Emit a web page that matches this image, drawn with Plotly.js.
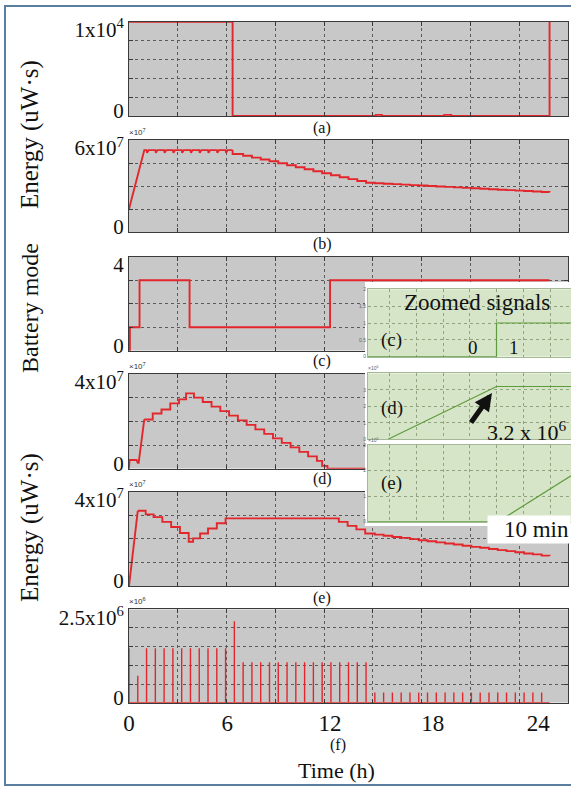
<!DOCTYPE html>
<html><head><meta charset="utf-8">
<script src="https://cdn.plot.ly/plotly-3.0.1.min.js"></script>
<style>html,body{margin:0;padding:0;background:#fff}#chart{width:571px;height:787px}</style>
</head><body><div id="chart"></div>
<script>
// ---------------- DATA (time in hours) ----------------
const timeEnd = 23.95;
// (a) harvested energy (uW·s)
const aTime = [0, 5.9, 14.05, 14.4, 17.95, 18.35, 23.95];
const aVal  = [10000, 0, 120, 0, 120, 0, 10000];
// (b) energy, x10^7
const bRampTime = [0, 0.87, 1.0, 1.03, 1.12, 1.5, 1.53, 1.62, 2.0, 2.03, 2.12, 2.5, 2.53, 2.62, 3.0, 3.03, 3.12, 3.5, 3.53, 3.62, 4.0, 4.03, 4.12, 4.5, 4.53, 4.62, 5.0, 5.03, 5.12, 5.5, 5.53, 5.62, 5.9];
const bRampVal  = [1.5, 5.34, 5.34, 5.16, 5.34, 5.34, 5.16, 5.34, 5.34, 5.16, 5.34, 5.34, 5.16, 5.34, 5.34, 5.16, 5.34, 5.34, 5.16, 5.34, 5.34, 5.16, 5.34, 5.34, 5.16, 5.34, 5.34, 5.16, 5.34, 5.34, 5.16, 5.34, 5.34];
const bStepTime = [5.9, 5.9, 6.5, 7.0, 7.5, 8.0, 8.5, 9.0, 9.5, 10.0, 10.5, 11.0, 11.5, 12.0, 12.5, 13.0, 13.5, 14.0, 14.5, 15.0, 15.5, 16.0, 16.5, 17.0, 17.5, 18.0, 18.5, 19.0, 19.5, 20.0, 20.5, 21.0, 21.5, 22.0, 22.5, 23.0, 23.5, 23.95];
const bStepVal  = [5.34, 5.09, 4.97, 4.85, 4.73, 4.61, 4.48, 4.35, 4.22, 4.09, 3.96, 3.83, 3.70, 3.57, 3.45, 3.33, 3.21, 3.18, 3.15, 3.12, 3.09, 3.06, 3.03, 3.00, 2.97, 2.94, 2.91, 2.88, 2.85, 2.82, 2.79, 2.76, 2.73, 2.70, 2.67, 2.64, 2.61, 2.59];
// (c) battery mode
const cTime = [0, 0.05, 0.6, 3.45, 11.45, 23.95];
const cVal  = [0, 1, 3, 1, 3, 3];
// (d) energy, x10^7
const dRampTime = [0, 0.03, 0.43, 0.5, 0.55, 0.87];
const dRampVal  = [0, 0.37, 0.37, 0.25, 0.25, 2.08];
const dStepTime = [0.87, 1.35, 1.85, 2.35, 2.85, 3.25, 3.7, 4.2, 4.7, 5.2, 5.7, 6.2, 6.7, 7.2, 7.7, 8.2, 8.7, 9.2, 9.7, 10.2, 10.7, 11.0, 11.3, 23.95];
const dStepVal  = [2.08, 2.33, 2.50, 2.76, 2.93, 3.18, 3.0, 2.82, 2.62, 2.43, 2.24, 2.04, 1.85, 1.66, 1.47, 1.28, 1.09, 0.90, 0.71, 0.52, 0.33, 0.12, 0, 0];
// (e) energy, x10^7
const eRampTime = [0, 0.5];
const eRampVal  = [0, 3.19];
const eStepTime = [0.5, 0.95, 1.4, 1.9, 2.4, 2.9, 3.4, 3.65, 4.05, 4.5, 5.0, 5.5, 11.95, 12.45, 12.95, 13.45, 14.0, 14.5, 15.0, 15.5, 16.0, 16.5, 17.0, 17.5, 18.0, 18.5, 19.0, 19.5, 20.0, 20.5, 21.0, 21.5, 22.0, 22.5, 23.0, 23.5, 23.95];
const eStepVal  = [3.19, 3.04, 2.92, 2.72, 2.50, 2.25, 1.88, 2.02, 2.23, 2.44, 2.66, 2.87, 2.72, 2.55, 2.40, 2.23, 2.18, 2.13, 2.08, 2.04, 1.99, 1.94, 1.90, 1.85, 1.80, 1.76, 1.71, 1.66, 1.62, 1.57, 1.52, 1.48, 1.43, 1.38, 1.34, 1.29, 1.27];
// (f) consumed energy pulses, x10^6
const fTime = [0, 0.5, 1.0, 1.5, 2.0, 2.5, 3.0, 3.5, 4.0, 4.5, 5.0, 5.5, 6.0, 6.5, 7.0, 7.5, 8.0, 8.5, 9.0, 9.5, 10.0, 10.5, 11.0, 11.5, 12.0, 12.5, 13.0, 13.5, 14.0, 14.5, 15.0, 15.5, 16.0, 16.5, 17.0, 17.5, 18.0, 18.5, 19.0, 19.5, 20.0, 20.5, 21.0, 21.5, 22.0, 22.5, 23.0, 23.5];
const fVal  = [1.46, 0.72, 1.46, 1.46, 1.46, 1.46, 1.46, 1.46, 1.46, 1.46, 1.46, 1.46, 2.18, 1.08, 1.08, 1.08, 1.08, 1.08, 1.08, 1.08, 1.08, 1.08, 1.08, 1.08, 1.08, 1.08, 1.08, 1.08, 0.27, 0.27, 0.27, 0.27, 0.27, 0.27, 0.27, 0.27, 0.27, 0.27, 0.27, 0.27, 0.27, 0.27, 0.27, 0.27, 0.27, 0.27, 0.27, 0.27];
// zoomed signals (time in minutes)
const ciTime = [0, 6.33, 10];   const ciVal = [0, 1, 1];
const diTime = [0.99, 6.33, 10]; const diVal = [0, 3.2, 3.2];   // x10^6
const eiTime = [0, 6.41, 10];   const eiVal = [0, 0, 1.8];      // x10^6
// axis labels
const yTops = [10000, 6, 4, 4, 4, 2.5];
const yTopLabels = ['1x10<sup>4</sup>', '6x10<sup>7</sup>', '4', '4x10<sup>7</sup>', '4x10<sup>7</sup>', '2.5x10<sup>6</sup>'];
const panelLetters = ['(a)', '(b)', '(c)', '(d)', '(e)', '(f)'];
const xTickVals = [0, 5.6, 11.45, 17.3, 23.3];
const xTickText = ['0', '6', '12', '18', '24'];

// ---------------- LAYOUT ----------------
const W = 571, H = 787;
const px = v => v / W, py = v => 1 - v / H;
const SERIF = 'Liberation Serif';
const SANS = 'Liberation Sans';
const RED = '#e3262b', GREEN = '#5e9a3e';
const xRange = 25, xGridN = 9;
const gridX = []; for (let k = 1; k < xGridN; k++) gridX.push(xRange * k / xGridN);

const panelBox = [ // top, bottom in px
  [21.7, 116], [140, 232], [256.7, 350.7], [374, 468.7], [491.7, 586], [609.3, 702.7]];
const yGridN = [5, 4, 4, 4, 4, 5];
const letterPos = [[322, 128], [322, 244], [322, 361], [322, 479], [322, 598], [338, 745]];
const expoText = [null, '×10<sup>7</sup>', null, '×10<sup>7</sup>', '×10<sup>7</sup>', '×10<sup>6</sup>'];
const topLabelDrop = 8, zeroLabelRise = 5; // px: the labels sit slightly inside the frame

const layout = {
  width: W, height: H, margin: {l: 0, r: 0, t: 0, b: 0},
  paper_bgcolor: '#ffffff', plot_bgcolor: 'rgba(0,0,0,0)', showlegend: false,
  font: {family: SERIF, color: '#111'},
  shapes: [], annotations: []
};
const sfx = i => (i === 0 ? '' : String(i + 1));
const ann = (x, y, text, size, extra) => Object.assign({xref: 'paper', yref: 'paper', x: px(x), y: py(y),
  xanchor: 'center', yanchor: 'middle', text: text, showarrow: false,
  font: {family: SERIF, size: size, color: '#111'}}, extra || {});

for (let i = 0; i < 6; i++) {
  const s = sfx(i), top = yTops[i];
  const hpx = panelBox[i][1] - panelBox[i][0];
  const gy = []; for (let k = 1; k < yGridN[i]; k++) gy.push(top * k / yGridN[i]);
  const bottom = i === 5;
  layout['xaxis' + s] = {
    domain: [px(129), px(568)], range: [0, xRange], anchor: 'y' + s, fixedrange: true,
    showline: true, linecolor: '#3a3a3a', linewidth: 1, mirror: 'ticks', zeroline: false,
    showgrid: false, ticks: '', tickmode: 'array',
    tickvals: bottom ? xTickVals : [], ticktext: bottom ? xTickText : [],
    showticklabels: bottom, tickfont: {family: SERIF, size: 23, color: '#111'},
    minor: {tickmode: 'array', tickvals: gridX, showgrid: true, gridcolor: '#5a5a5a', griddash: 'dot', gridwidth: 1, ticks: 'inside', ticklen: 4, tickcolor: '#3a3a3a'}
  };
  layout['yaxis' + s] = {
    domain: [py(panelBox[i][1]), py(panelBox[i][0])], range: [0, top], anchor: 'x' + s, fixedrange: true,
    showline: true, linecolor: '#3a3a3a', linewidth: 1, mirror: 'ticks', zeroline: false,
    showgrid: false, ticks: '', tickmode: 'array',
    tickvals: [top * zeroLabelRise / hpx, top * (1 - topLabelDrop / hpx)], ticktext: ['0', yTopLabels[i]],
    tickfont: {family: SERIF, size: 21, color: '#111'},
    minor: {tickmode: 'array', tickvals: gy, showgrid: true, gridcolor: '#5a5a5a', griddash: 'dot', gridwidth: 1, ticks: 'inside', ticklen: 4, tickcolor: '#3a3a3a'}
  };
  layout.shapes.push({type: 'rect', xref: 'x' + s, yref: 'y' + s, x0: 0, x1: xRange, y0: 0, y1: top,
    fillcolor: '#c8c8c8', line: {width: 0}, layer: 'below'});
  layout.annotations.push(ann(letterPos[i][0], letterPos[i][1], panelLetters[i], 16));
  if (expoText[i]) layout.annotations.push(ann(127, panelBox[i][0] - 1, expoText[i], 8,
    {xanchor: 'left', yanchor: 'bottom', font: {family: SANS, size: 8, color: '#333'}}));
}

// white inset background subplot (x7/y7)
layout.xaxis7 = {domain: [px(365), 1], range: [0, 1], anchor: 'y7', visible: false, fixedrange: true};
layout.yaxis7 = {domain: [py(526), py(282)], range: [0, 1], anchor: 'x7', visible: false, fixedrange: true};
layout.shapes.push({type: 'rect', xref: 'x7', yref: 'y7', x0: 0, x1: 1, y0: 0, y1: 1,
  fillcolor: '#ffffff', line: {width: 0}, layer: 'below'});

// inset subplots
const insetBox = [[289.3, 356.7], [373.3, 439.3], [445, 521.7]];
const insetY = [
  {range: [0, 2], vals: [0, 0.5, 1, 1.5, 2], text: ['0', '0.5', '1', '1.5', '2']},
  {range: [0, 4], vals: [0, 1, 2, 3], text: ['0', '1', '2', '3']},
  {range: [0, 3], vals: [0, 1, 2, 3], text: ['0', '1', '2', '3']}];
for (let j = 0; j < 3; j++) {
  const s = String(8 + j);
  layout['xaxis' + s] = {domain: [px(368), 1], range: [0, 10], anchor: 'y' + s, fixedrange: true,
    showline: true, linecolor: '#a4b896', mirror: true, zeroline: false, showgrid: true,
    gridcolor: '#8fa57f', griddash: 'dot', gridwidth: 1, tickmode: 'linear', tick0: 1.07, dtick: 1.316,
    ticks: '', showticklabels: false};
  layout['yaxis' + s] = {domain: [py(insetBox[j][1]), py(insetBox[j][0])], range: insetY[j].range, anchor: 'x' + s,
    fixedrange: true, showline: true, linecolor: '#a4b896', mirror: true, zeroline: false, showgrid: true,
    gridcolor: '#8fa57f', griddash: 'dot', gridwidth: 1, ticks: '', tickmode: 'array',
    tickvals: insetY[j].vals, ticktext: insetY[j].text, tickfont: {family: SANS, size: 5, color: '#666'}};
  layout.shapes.push({type: 'rect', xref: 'x' + s, yref: 'y' + s, x0: 0, x1: 10, y0: 0, y1: insetY[j].range[1],
    fillcolor: '#d6e5c7', line: {width: 0}, layer: 'below'});
}

// titles and inset texts
layout.annotations.push(
  ann(30, 135, 'Energy (uW·s)', 25, {textangle: -90}),
  ann(30, 308, 'Battery mode', 24, {textangle: -90}),
  ann(30, 528, 'Energy (uW·s)', 25, {textangle: -90}),
  ann(336, 770, 'Time (h)', 22),
  ann(477, 302, 'Zoomed signals', 23),
  ann(392, 340, '(c)', 19), ann(473, 347, '0', 19), ann(514, 347, '1', 19),
  ann(392, 408, '(d)', 19), ann(527, 431, '3.2 x 10<sup>6</sup>', 22),
  ann(392, 483, '(e)', 19),
  ann(571, 529, '10 min', 23, {xanchor: 'right', bgcolor: '#ffffff', width: 80, align: 'right', borderpad: 1}),
  ann(366, 373, '×10<sup>6</sup>', 5, {xanchor: 'left', yanchor: 'bottom', font: {family: SANS, size: 5, color: '#666'}}),
  ann(366, 445, '×10<sup>6</sup>', 5, {xanchor: 'left', yanchor: 'bottom', font: {family: SANS, size: 5, color: '#666'}}),
  {xref: 'paper', yref: 'paper', x: px(492), y: py(393), ax: -22, ay: 31, text: '', showarrow: true,
   arrowhead: 2, arrowsize: 0.7, arrowwidth: 5, arrowcolor: '#111'}
);
// outer frame
layout.shapes.push({type: 'rect', xref: 'paper', yref: 'paper', x0: px(5), x1: 1.05, y0: py(785), y1: py(6),
  line: {color: '#5a7ea0', width: 2}, fillcolor: 'rgba(0,0,0,0)', layer: 'below'});

// ---------------- TRACES ----------------
const line = (x, y, xa, ya, shape, color, width) => ({type: 'scatter', mode: 'lines', x: x, y: y,
  xaxis: xa, yaxis: ya, line: {color: color || RED, width: width || 1.9, shape: shape || 'linear'},
  hoverinfo: 'skip'});
const fx = [], fy = [];
fTime.forEach((t, i) => { fx.push(t, t, t); fy.push(0, fVal[i], 0); });
fx.push(timeEnd); fy.push(0);

const traces = [
  line(aTime, aVal, 'x', 'y', 'hv'),
  line(bRampTime, bRampVal, 'x2', 'y2'),
  line(bStepTime, bStepVal, 'x2', 'y2', 'hv'),
  line(cTime, cVal, 'x3', 'y3', 'hv'),
  line(dRampTime, dRampVal, 'x4', 'y4'),
  line(dStepTime, dStepVal, 'x4', 'y4', 'hv'),
  line(eRampTime, eRampVal, 'x5', 'y5'),
  line(eStepTime, eStepVal, 'x5', 'y5', 'hv'),
  line(fx, fy, 'x6', 'y6', 'linear', RED, 1.4),
  {type: 'scatter', mode: 'lines', x: [], y: [], xaxis: 'x7', yaxis: 'y7', hoverinfo: 'skip'},
  line(ciTime, ciVal, 'x8', 'y8', 'hv', GREEN, 1.2),
  line(diTime, diVal, 'x9', 'y9', 'linear', GREEN, 1.2),
  line(eiTime, eiVal, 'x10', 'y10', 'linear', GREEN, 1.2)
];

Plotly.newPlot('chart', traces, layout, {staticPlot: true, displayModeBar: false});
</script></body></html>
